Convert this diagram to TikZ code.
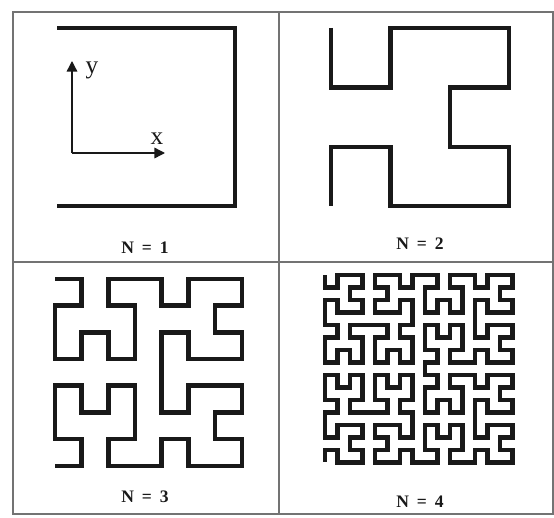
\documentclass[tikz,border=0pt]{standalone}
\usepackage{fontspec}
\setmainfont{Liberation Serif}
\usetikzlibrary{arrows.meta, lindenmayersystems}
\definecolor{curveink}{RGB}{25,25,25}
\definecolor{frameink}{RGB}{115,115,115}
\pgfdeclarelindenmayersystem{hilbert}{
    \rule{L -> +RF-LFL-FR+}
    \rule{R -> -LF+RFR+FL-}
}
\tikzset{
    framebox/.style={draw=frameink, line width=0.9pt},
    curve/.style={draw=curveink, line width=2.3pt, line join=miter},
    axis/.style={-{Triangle[length=6pt, width=6pt]}, curveink, line width=0.8pt},
    panellbl/.style={font=\fontsize{10}{12}\selectfont\bfseries, text=curveink, inner sep=1pt},
    axislbl/.style={font=\Large, text=curveink, inner sep=0pt},
}
\begin{document}
\begin{tikzpicture}[x=0.02cm, y=-0.02cm]
\useasboundingbox (0,0) rectangle (554,517);

% frame
\draw[framebox] (13,12) rectangle (553,514);
\draw[framebox] (279,12) -- (279,514);
\draw[framebox] (13,262) -- (553,262);

% N = 1
\begin{scope}[shift={(57,28)}, rotate=-90]
\draw[curve, line width=2.5pt, lindenmayer system={hilbert, axiom=L, order=1, step=3.56cm, angle=90}] (0,0) lindenmayer system;
\end{scope}
\coordinate (origin) at (72,153);
\coordinate (ytip) at (72,61);
\coordinate (xtip) at (165,153);
\draw[axis] (origin) -- (ytip);
\draw[axis] (origin) -- (xtip);
\node[axislbl] (ylbl) at (92,70) {y};
\node[axislbl] (xlbl) at (157,139) {x};
\node[panellbl] (lbl-n1) at (145,248) {N\hspace{0.45em}=\hspace{0.45em}1};

% N = 2
\begin{scope}[shift={(331,28)}, rotate=-90]
\draw[curve, lindenmayer system={hilbert, axiom=L, order=2, step=1.19cm, angle=90}] (0,0) lindenmayer system;
\end{scope}
\node[panellbl] (lbl-n2) at (420,244) {N\hspace{0.45em}=\hspace{0.45em}2};

% N = 3
\begin{scope}[shift={(55,279)}, rotate=-90]
\draw[curve, line width=2.6pt, lindenmayer system={hilbert, axiom=L, order=3, step=0.534cm, angle=90}] (0,0) lindenmayer system;
\end{scope}
\node[panellbl] (lbl-n3) at (145,497) {N\hspace{0.45em}=\hspace{0.45em}3};

% N = 4
\begin{scope}[shift={(325,275)}, rotate=-90]
\draw[curve, line width=2.8pt, lindenmayer system={hilbert, axiom=L, order=4, step=0.25cm, angle=90}] (0,0) lindenmayer system;
\end{scope}
\node[panellbl] (lbl-n4) at (420,502) {N\hspace{0.45em}=\hspace{0.45em}4};

\end{tikzpicture}
\end{document}
